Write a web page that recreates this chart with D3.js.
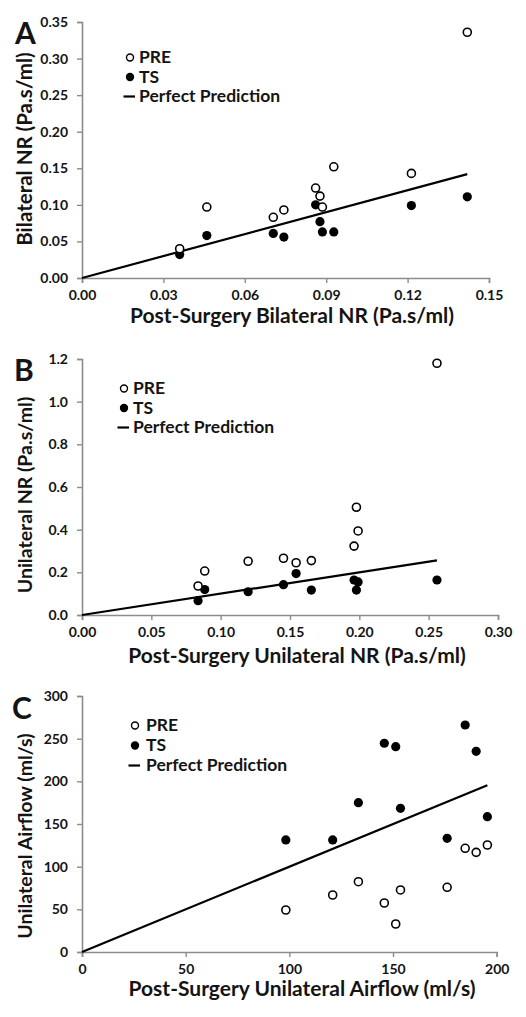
<!DOCTYPE html>
<html><head><meta charset="utf-8">
<script src="https://cdn.jsdelivr.net/npm/d3@7/dist/d3.min.js"></script>
<style>
html,body{margin:0;padding:0;background:#fff;}
svg text{font-family:Lato,"Open Sans",sans-serif;font-weight:bold;fill:#141414;}
</style></head>
<body>
<svg id="chart" width="526" height="1017"></svg>
<script>
// Panel A: bilateral NR
const aPost = [0.036, 0.046, 0.0705, 0.0744, 0.0861, 0.0877, 0.0886, 0.0928, 0.1214, 0.142];
const aPre  = [0.040, 0.097, 0.083, 0.093, 0.123, 0.112, 0.097, 0.152, 0.143, 0.336];
const aTS   = [0.032, 0.058, 0.061, 0.056, 0.100, 0.077, 0.063, 0.063, 0.099, 0.111];
const aXTicks = [0, 0.03, 0.06, 0.09, 0.12, 0.15];
const aYTicks = [0, 0.05, 0.10, 0.15, 0.20, 0.25, 0.30, 0.35];

// Panel B: unilateral NR
const bPost = [0.0837, 0.0885, 0.1198, 0.1453, 0.1544, 0.1654, 0.1962, 0.1991, 0.1979, 0.256];
const bPre  = [0.136, 0.206, 0.252, 0.266, 0.245, 0.255, 0.323, 0.394, 0.505, 1.18];
const bTS   = [0.067, 0.119, 0.109, 0.142, 0.194, 0.117, 0.164, 0.155, 0.117, 0.164];
const bXTicks = [0, 0.05, 0.10, 0.15, 0.20, 0.25, 0.30];
const bYTicks = [0, 0.2, 0.4, 0.6, 0.8, 1.0, 1.2];

// Panel C: unilateral airflow
const cPost = [98.3, 120.9, 133.3, 145.8, 151.3, 153.6, 176.1, 184.8, 190.1, 195.5];
const cPre  = [49.2, 66.8, 82.4, 57.4, 32.8, 72.7, 75.8, 121.5, 116.8, 125.4];
const cTS   = [131.3, 131.3, 175, 244.6, 240.6, 168.4, 133.2, 266, 235.2, 158.6];
const cXTicks = [0, 50, 100, 150, 200];
const cYTicks = [0, 50, 100, 150, 200, 250, 300];

const legendLabels = ["PRE", "TS", "Perfect Prediction"];

const svg = d3.select("#chart");

function panel(o) {
  const g = svg.append("g");
  const x = d3.scaleLinear().domain([0, o.xMax]).range([o.x0, o.x1]);
  const y = d3.scaleLinear().domain([0, o.yMax]).range([o.y0, o.y1]);

  const xAxis = d3.axisBottom(x).tickValues(o.xTicks).tickFormat(d3.format(o.xFmt)).tickSizeOuter(0).tickSize(5).tickPadding(4);
  const yAxis = d3.axisLeft(y).tickValues(o.yTicks).tickFormat(d3.format(o.yFmt)).tickSizeOuter(0).tickSize(5).tickPadding(9);

  const gx = g.append("g").attr("transform", `translate(0,${o.y0})`).call(xAxis);
  const gy = g.append("g").attr("transform", `translate(${o.x0},0)`).call(yAxis);
  [gx, gy].forEach(a => {
    a.select(".domain").attr("stroke", "#8c8c8c").attr("stroke-width", 1.6);
    a.selectAll(".tick line").attr("stroke", "#8c8c8c").attr("stroke-width", 1.4);
    a.selectAll(".tick text").style("font-size", "14px").style("font-family", "Lato, sans-serif").style("font-weight", "bold").attr("fill", "#141414");
  });
  gx.selectAll(".tick text").attr("dy", "0.9em");

  // perfect prediction line
  const maxP = d3.max(o.post);
  g.append("line")
    .attr("x1", x(0)).attr("y1", y(0))
    .attr("x2", x(maxP)).attr("y2", y(maxP))
    .attr("stroke", "#000").attr("stroke-width", 2.2);

  // points
  g.selectAll(".ts").data(o.post.map((p, i) => [p, o.ts[i]])).enter()
    .append("circle").attr("cx", d => x(d[0])).attr("cy", d => y(d[1]))
    .attr("r", 4.6).attr("fill", "#000");
  g.selectAll(".pre").data(o.post.map((p, i) => [p, o.pre[i]])).enter()
    .append("circle").attr("cx", d => x(d[0])).attr("cy", d => y(d[1]))
    .attr("r", 4.0).attr("fill", "#fff").attr("stroke", "#000").attr("stroke-width", 1.6);

  // panel letter
  g.append("text").attr("x", o.lx).attr("y", o.ly).text(o.letter).style("font-size", "30px");

  // legend
  const L = o.legend;
  g.append("circle").attr("cx", L.cx).attr("cy", L.y0 - 5.5).attr("r", 3.5)
    .attr("fill", "#fff").attr("stroke", "#000").attr("stroke-width", 1.4);
  g.append("circle").attr("cx", L.cx).attr("cy", L.y0 + L.dy - 5.5).attr("r", 4.2).attr("fill", "#000");
  g.append("line").attr("x1", L.cx - 6.5).attr("x2", L.cx + 5).attr("y1", L.y0 + 2 * L.dy - 5.5).attr("y2", L.y0 + 2 * L.dy - 5.5)
    .attr("stroke", "#000").attr("stroke-width", 2.2);
  legendLabels.forEach((t, i) => {
    g.append("text").attr("x", L.tx).attr("y", L.y0 + i * L.dy).text(t).style("font-size", "17.5px");
  });

  // axis titles
  g.append("text").attr("x", o.xtX).attr("y", o.xtY).attr("text-anchor", "middle")
    .text(o.xTitle).style("font-size", "21px");
  g.append("text").attr("transform", `translate(${o.ytX},${o.ytY}) rotate(-90)`).attr("text-anchor", "middle")
    .text(o.yTitle).style("font-size", o.ytSize + "px");
}

panel({post: aPost, pre: aPre, ts: aTS, xMax: 0.15, yMax: 0.35, x0: 82, x1: 489, y0: 278, y1: 22,
  xTicks: aXTicks, yTicks: aYTicks, xFmt: ".2f", yFmt: ".2f", letter: "A", lx: 15, ly: 44,
  legend: {cx: 130, tx: 139, y0: 63, dy: 19.5},
  xTitle: "Post-Surgery Bilateral NR (Pa.s/ml)", xtX: 292, xtY: 323,
  yTitle: "Bilateral NR (Pa.s/ml)", ytX: 32, ytY: 149, ytSize: 20.5});

panel({post: bPost, pre: bPre, ts: bTS, xMax: 0.30, yMax: 1.2, x0: 82, x1: 498, y0: 615, y1: 359,
  xTicks: bXTicks, yTicks: bYTicks, xFmt: ".2f", yFmt: ".1f", letter: "B", lx: 14, ly: 381,
  legend: {cx: 124, tx: 133, y0: 394, dy: 19.5},
  xTitle: "Post-Surgery Unilateral NR (Pa.s/ml)", xtX: 297, xtY: 663,
  yTitle: "Unilateral NR (Pa.s/ml)", ytX: 32, ytY: 495, ytSize: 19.5});

panel({post: cPost, pre: cPre, ts: cTS, xMax: 200, yMax: 300, x0: 82, x1: 496.7, y0: 952, y1: 696,
  xTicks: cXTicks, yTicks: cYTicks, xFmt: "d", yFmt: "d", letter: "C", lx: 12, ly: 719,
  legend: {cx: 135, tx: 146, y0: 731, dy: 20},
  xTitle: "Post-Surgery Unilateral Airflow (ml/s)", xtX: 302, xtY: 996,
  yTitle: "Unilateral Airflow (ml/s)", ytX: 32, ytY: 836, ytSize: 19.5});
</script>
</body></html>
